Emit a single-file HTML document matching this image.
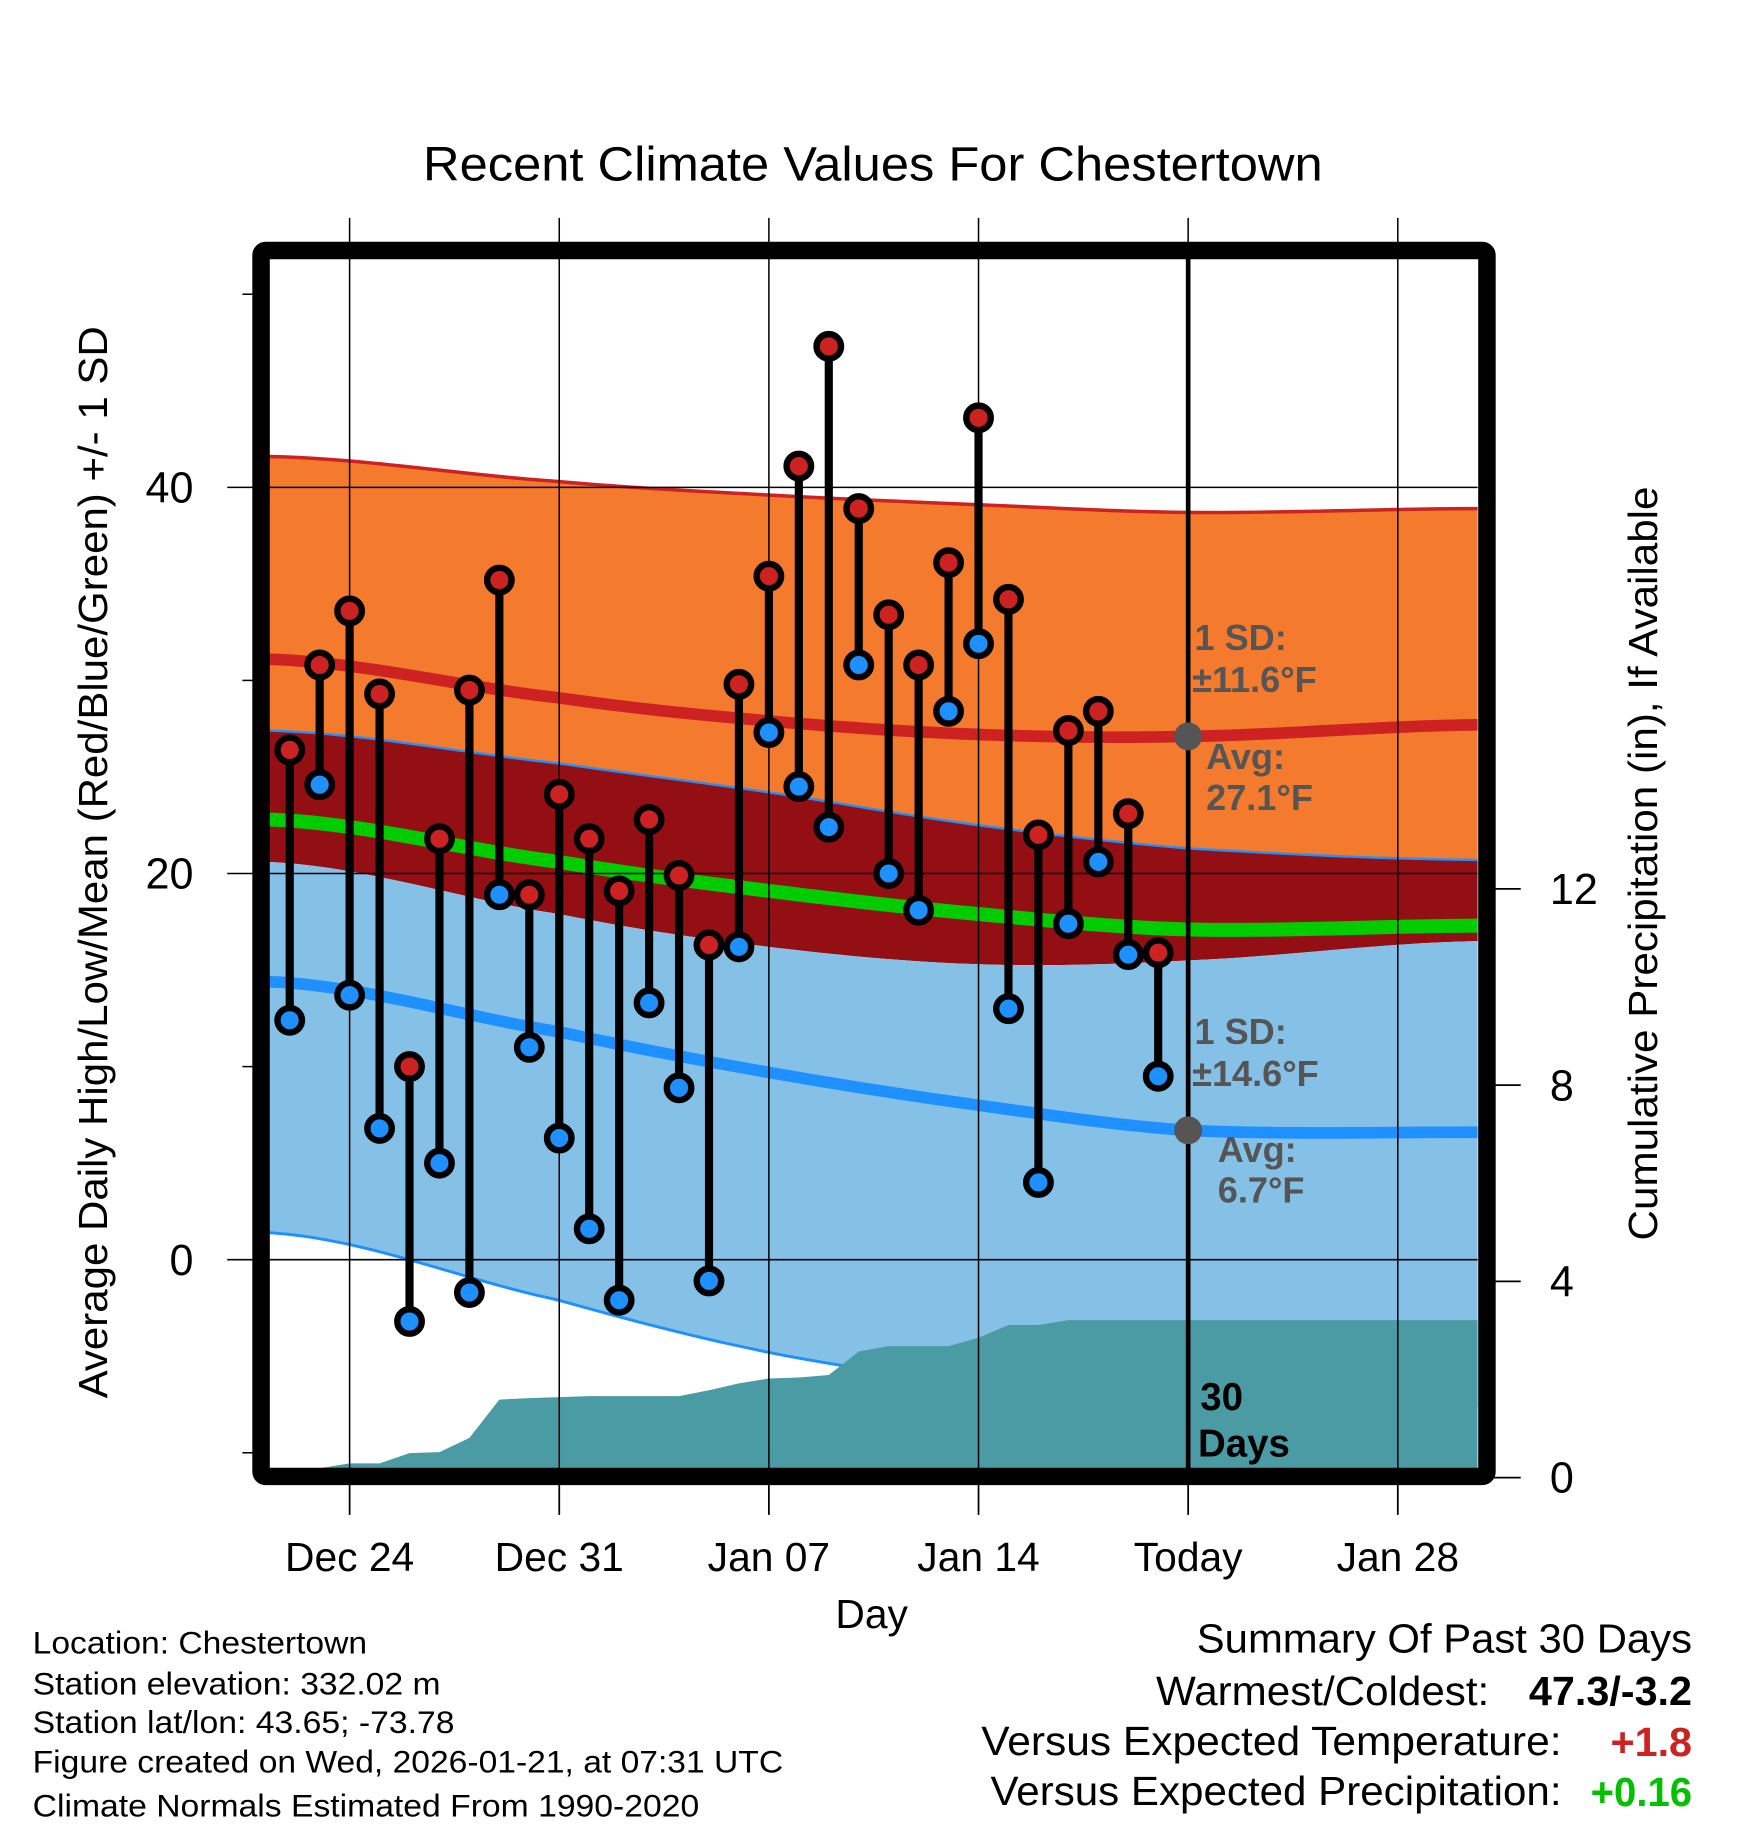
<!DOCTYPE html>
<html><head><meta charset="utf-8"><style>
html,body{margin:0;padding:0;background:#fff;}
svg{display:block;font-family:"Liberation Sans",Arial,sans-serif;}
</style></head><body>
<svg id="chart" width="1748" height="1828" viewBox="0 0 1500 1568.7" xmlns="http://www.w3.org/2000/svg">
<rect x="0" y="0" width="1500" height="1568.7" fill="#fff"/>
<defs><clipPath id="plotclip"><rect x="231" y="222" width="1037" height="1038"/></clipPath></defs>
<text x="749" y="155" font-size="41" text-anchor="middle" textLength="772" lengthAdjust="spacingAndGlyphs">Recent Climate Values For Chestertown</text>
<g id="plot" clip-path="url(#plotclip)"></g>
<g id="over"></g>
<text transform="translate(92,740) rotate(-90)" font-size="35" text-anchor="middle" textLength="920" lengthAdjust="spacingAndGlyphs">Average Daily High/Low/Mean (Red/Blue/Green) +/- 1 SD</text>
<text transform="translate(1422,741) rotate(-90)" font-size="35" text-anchor="middle" textLength="647" lengthAdjust="spacingAndGlyphs">Cumulative Precipitation (in), If Available</text>
<text x="748" y="1397" font-size="35" text-anchor="middle">Day</text>
<g font-size="27">
<text x="28" y="1419" textLength="287" lengthAdjust="spacingAndGlyphs">Location: Chestertown</text>
<text x="28" y="1454" textLength="350" lengthAdjust="spacingAndGlyphs">Station elevation: 332.02 m</text>
<text x="28" y="1487" textLength="362" lengthAdjust="spacingAndGlyphs">Station lat/lon: 43.65; -73.78</text>
<text x="28" y="1521" textLength="644" lengthAdjust="spacingAndGlyphs">Figure created on Wed, 2026-01-21, at 07:31 UTC</text>
<text x="28" y="1559" textLength="572" lengthAdjust="spacingAndGlyphs">Climate Normals Estimated From 1990-2020</text>
</g>
<g font-size="35">
<text x="1027" y="1418" textLength="425" lengthAdjust="spacingAndGlyphs">Summary Of Past 30 Days</text>
<text x="992" y="1463" textLength="286" lengthAdjust="spacingAndGlyphs">Warmest/Coldest:</text>
<text x="1312" y="1463" font-weight="bold" textLength="140" lengthAdjust="spacingAndGlyphs">47.3/-3.2</text>
<text x="842" y="1506" textLength="498" lengthAdjust="spacingAndGlyphs">Versus Expected Temperature:</text>
<text x="1382" y="1507" font-weight="bold" fill="#cc2222" textLength="70" lengthAdjust="spacingAndGlyphs">+1.8</text>
<text x="850" y="1549" textLength="490" lengthAdjust="spacingAndGlyphs">Versus Expected Precipitation:</text>
<text x="1365" y="1550" font-weight="bold" fill="#00c000" textLength="87" lengthAdjust="spacingAndGlyphs">+0.16</text>
</g>
</svg>
<script>
// ---- data ----
const normDays = [-2.7, 7, 14, 21, 28, 37.7];
const avgHigh = [31.1, 29.1, 27.9, 27.2, 27.1, 27.7];
const highSD = [10.5, 11.2, 11.7, 11.9, 11.6, 11.2];
const avgLow = [14.4, 11.8, 9.7, 8.0, 6.7, 6.6];
const lowSD = [13.0, 13.9, 14.5, 14.5, 14.6, 14.1];
const avgMean = [22.8, 20.6, 19.1, 17.9, 17.1, 17.3];
const obsDays = [-2,-1,0,1,2,3,4,5,6,7,8,9,10,11,12,13,14,15,16,17,18,19,20,21,22,23,24,25,26,27];
const highs = [26.4,30.8,33.6,29.3,10.0,21.8,29.5,35.2,18.9,24.1,21.8,19.1,22.8,19.9,16.3,29.8,35.4,41.1,47.3,38.9,33.4,30.8,36.1,43.6,34.2,22.0,27.4,28.4,23.1,15.9];
const lows = [12.4,24.6,13.7,6.8,-3.2,5.0,-1.7,18.9,11.0,6.3,1.6,-2.1,13.3,8.9,-1.1,16.2,27.3,24.5,22.4,30.8,20.0,18.1,28.4,31.9,13.0,4.0,17.4,20.6,15.8,9.5];
const precip = [0.19,0.19,0.29,0.29,0.50,0.52,0.81,1.59,1.62,1.64,1.66,1.66,1.66,1.66,1.78,1.92,2.02,2.04,2.09,2.57,2.68,2.68,2.68,2.85,3.11,3.11,3.21,3.21,3.21,3.21];
const xTickDays = [0,7,14,21,28,35];
const xTickLabels = ["Dec 24","Dec 31","Jan 07","Jan 14","Today","Jan 28"];
const yTicks = [40,20,0];
const yMinorTicks = [50,30,10,-10];
const y2Ticks = [0,4,8,12];
const todayDay = 28;

// ---- axes ----
const xS = d => 300 + 25.7*d;
const yS = v => 1081 - 16.57*v;
const y2S = v => 1268 - 42.1*v;
const L=231,R=1268,T=222,B=1260;
const NS="http://www.w3.org/2000/svg";
function mk(tag, attrs, parent){const e=document.createElementNS(NS,tag);for(const k in attrs)e.setAttribute(k,attrs[k]);parent.appendChild(e);return e;}
// smooth (Catmull-Rom style) interpolation through knots
function interp(arr, d){
  const n=normDays.length;
  let i=0; while(i<n-2 && d>normDays[i+1]) i++;
  const t=(d-normDays[i])/(normDays[i+1]-normDays[i]);
  const p0=arr[Math.max(i-1,0)],p1=arr[i],p2=arr[i+1],p3=arr[Math.min(i+2,n-1)];
  const m1=(p2-p0)/2*(i===0?0.5:1), m2=(p3-p1)/2*(i+1===n-1?0.5:1);
  const t2=t*t,t3=t2*t;
  return (2*t3-3*t2+1)*p1+(t3-2*t2+t)*m1+(-2*t3+3*t2)*p2+(t3-t2)*m2;
}
const samp=[];for(let d=-2.7;d<=37.8;d+=0.5)samp.push(Math.min(d,37.7));
function curve(f){return samp.map(d=>[xS(d),yS(f(d))]);}
const fHP=d=>interp(avgHigh,d)+interp(highSD,d), fHM=d=>interp(avgHigh,d)-interp(highSD,d);
const fLP=d=>interp(avgLow,d)+interp(lowSD,d), fLM=d=>interp(avgLow,d)-interp(lowSD,d);
function band(f1,f2){const a=curve(f1),b=curve(f2).reverse();return a.concat(b).map(p=>p.join(',')).join(' ');}
const plot=document.getElementById('plot'), over=document.getElementById('over');

let e;
e=mk('polygon',{points:band(fHP,fLP),fill:'#f47a2e'},plot);


e=mk('polygon',{points:band(fLP,fHM),fill:'#940f14'},plot);


e=mk('polygon',{points:band(fHM,fLM),fill:'#85c1e6'},plot);


function line(f,color,w){return mk('polyline',{points:curve(f).map(p=>p.join(',')).join(' '),fill:'none',stroke:color,'stroke-width':w},plot);}
e=line(fHP,'#cc2222',3);


e=line(fLP,'#1e90ff',2);


e=line(fLM,'#1e90ff',2.5);


e=line(d=>interp(avgHigh,d),'#cc2222',10);


e=line(d=>interp(avgMean,d),'#00cc00',12);


e=line(d=>interp(avgLow,d),'#1e90ff',10);



// precip area
let pts=[[L,B],[L,y2S(precip[0])]];
obsDays.forEach((d,i)=>pts.push([xS(d),y2S(precip[i])]));
pts.push([R,y2S(precip[precip.length-1])],[R,B]);
e=mk('polygon',{points:pts.map(p=>p.join(',')).join(' '),fill:'#4a9ba4'},plot);



// grid
xTickDays.forEach((d,i)=>{
  e=mk('line',{x1:xS(d),x2:xS(d),y1:187,y2:B,stroke:'#000','stroke-width':1.3},over);
  
  
  mk('line',{x1:xS(d),x2:xS(d),y1:1270,y2:1300,stroke:'#000','stroke-width':1.5},over);
  e=mk('text',{x:xS(d),y:1348,'font-size':35,'text-anchor':'middle'},over);
  e.textContent=xTickLabels[i];
  
  
});
yTicks.forEach(v=>{
  e=mk('line',{x1:195,x2:R,y1:yS(v),y2:yS(v),stroke:'#000','stroke-width':1.3},over);
  
  
  e=mk('text',{x:166,y:yS(v)+13,'font-size':37,'text-anchor':'end'},over);
  e.textContent=v;
  
  
});
yMinorTicks.forEach(v=>{mk('line',{x1:208,x2:220,y1:yS(v),y2:yS(v),stroke:'#000','stroke-width':1.3},over);});
y2Ticks.forEach(v=>{
  mk('line',{x1:1280,x2:1305,y1:y2S(v),y2:y2S(v),stroke:'#000','stroke-width':1.5},over);
  e=mk('text',{x:1330,y:y2S(v)+13,'font-size':37},over);
  e.textContent=v;
  
  
});

// stems and markers
obsDays.forEach((d,i)=>{
  const x=xS(d);
  e=mk('line',{x1:x,x2:x,y1:yS(highs[i]),y2:yS(lows[i]),stroke:'#000','stroke-width':7},over);
  
  
});
obsDays.forEach((d,i)=>{
  const x=xS(d);
  e=mk('circle',{cx:x,cy:yS(highs[i]),r:10.5,fill:'#cc2222',stroke:'#000','stroke-width':5.5},over);
  
  
  e=mk('circle',{cx:x,cy:yS(lows[i]),r:10.5,fill:'#1e90ff',stroke:'#000','stroke-width':5.5},over);
  
  
});

// today line and annotation
e=mk('line',{x1:xS(todayDay),x2:xS(todayDay),y1:T,y2:B,stroke:'#000','stroke-width':4},over);


const tx=xS(todayDay);
e=mk('circle',{cx:tx,cy:yS(interp(avgHigh,todayDay)),r:12,fill:'#555'},over);


e=mk('circle',{cx:tx,cy:yS(interp(avgLow,todayDay)),r:12,fill:'#555'},over);


const ann=[["1 SD:",1025,558],["±11.6°F",1023,594],["Avg:",1035,660],["27.1°F",1035,695],["1 SD:",1025,896],["±14.6°F",1023,932],["Avg:",1045,997],["6.7°F",1045,1032]];
ann.forEach(a=>{e=mk('text',{x:a[1],y:a[2],'font-size':31,'font-weight':'bold',fill:'#555'},over);e.textContent=a[0];

});
[["30",1030,1210],["Days",1028,1250]].forEach(a=>{e=mk('text',{x:a[1],y:a[2],'font-size':33,'font-weight':'bold',fill:'#000'},over);e.textContent=a[0];

});

// frame
e=mk('rect',{x:224,y:215,width:1052,height:1052,rx:4,fill:'none',stroke:'#000','stroke-width':15},over);


</script>
</body></html>
